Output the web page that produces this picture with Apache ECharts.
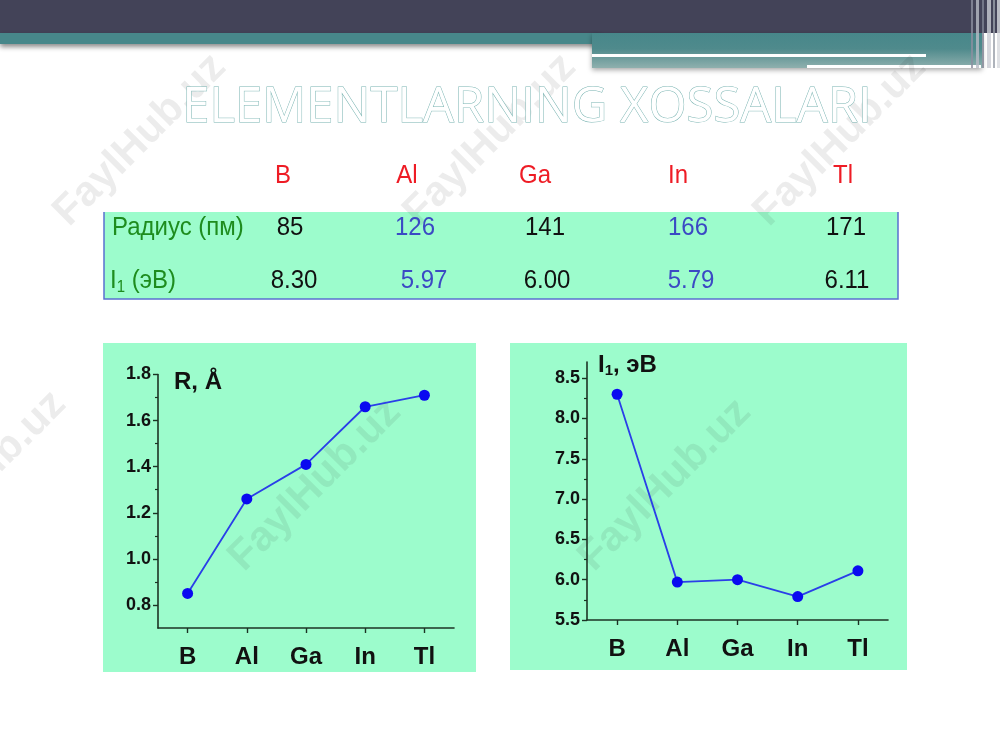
<!DOCTYPE html>
<html>
<head>
<meta charset="utf-8">
<script src="https://cdn.jsdelivr.net/npm/echarts@6/dist/echarts.min.js"></script>
<style>
html,body{margin:0;padding:0;background:#fff;}
#main{width:1000px;height:750px;}
</style>
</head>
<body>
<div id="main"></div>
<script>
// ---- data ----
const elements = ['B', 'Al', 'Ga', 'In', 'Tl'];
const radiusPm = [85, 126, 141, 166, 171];
const ionizationEv = [8.30, 5.97, 6.00, 5.79, 6.11];
const radiusA = [0.85, 1.26, 1.41, 1.66, 1.71];
const ionizationPlot = [8.30, 5.97, 6.00, 5.79, 6.11];
const rTicks = [0.8, 1.0, 1.2, 1.4, 1.6, 1.8];
const rMinorTicks = [0.9, 1.1, 1.3, 1.5, 1.7];
const iTicks = [5.5, 6.0, 6.5, 7.0, 7.5, 8.0, 8.5];
const iMinorTicks = [5.75, 6.25, 6.75, 7.25, 7.75, 8.25];
const titleText = 'ELEMENTLARNING XOSSALARI';
const rowLabelRadius = 'Радиус (пм)';
const watermark = 'FaylHub.uz';

// ---- layout / style ----
const FONT = '"Liberation Sans", Arial, sans-serif';
const GREEN_BG = '#9cfccc';
const AXIS_COLOR = '#1c3324';
const headX = [283, 407, 535, 678, 843];
const row1X = [290, 415, 545, 688, 846];
const row2X = [294, 424, 547, 691, 847];
const valueColors = ['#111', '#3b49c4', '#111', '#3b49c4', '#111'];

const chart = echarts.init(document.getElementById('main'), null, {renderer: 'canvas'});

const g = [];
// banner
g.push({type: 'rect', z: -10, shape: {x: 0, y: 0, width: 1000, height: 33}, style: {fill: '#434358'}});
g.push({type: 'rect', z: -9, shape: {x: 0, y: 33, width: 600, height: 11},
  style: {fill: '#47878a', shadowBlur: 5, shadowOffsetY: 3, shadowColor: 'rgba(0,0,0,0.45)'}});
g.push({type: 'rect', z: -8, shape: {x: 592, y: 33, width: 390, height: 35},
  style: {fill: new echarts.graphic.LinearGradient(0, 0, 0, 1, [
    {offset: 0, color: '#47878a'}, {offset: 0.45, color: '#4f8a8c'}, {offset: 1, color: '#8fb0ae'}]),
    shadowBlur: 5, shadowOffsetY: 2, shadowColor: 'rgba(0,0,0,0.35)'}});
g.push({type: 'rect', z: -7, shape: {x: 592, y: 54, width: 334, height: 3}, style: {fill: '#ffffff'}});
g.push({type: 'rect', z: -7, shape: {x: 807, y: 65, width: 174, height: 3}, style: {fill: '#ffffff'}});
const stripes = [[971, 2, '#8c8fa0'], [976, 3, '#b8bcc6'], [982, 2, '#7f8394'], [987, 4, '#c9ccd3'], [993, 2, '#9aa0aa'], [997, 3, '#d7dadf']];
stripes.forEach(s => g.push({type: 'rect', z: -6, shape: {x: s[0], y: 0, width: s[1], height: 68}, style: {fill: s[2], opacity: 0.8}}));

// title
g.push({type: 'text', z: 5, x: 527, y: 108, style: {text: titleText, font: '49px "Open Sans"', align: 'center', verticalAlign: 'middle',
  fill: '#ffffff', stroke: '#7ab4b2', lineWidth: 1}});

// table
g.push({type: 'rect', z: -10, shape: {x: 104, y: 212, width: 794, height: 87}, style: {fill: GREEN_BG}});
g.push({type: 'polyline', z: -9, shape: {points: [[104, 212], [104, 299], [898, 299], [898, 212]]}, style: {stroke: '#5a6fd0', lineWidth: 1.5, fill: null}});
elements.forEach((e, i) => {
  g.push({type: 'text', z: 5, x: headX[i], y: 176, scaleY: 1.08, style: {text: e, font: '24px ' + FONT, fill: '#ee1c25', align: 'center', verticalAlign: 'middle'}});
  g.push({type: 'text', z: 5, x: row1X[i], y: 228, scaleY: 1.08, style: {text: String(radiusPm[i]), font: '24px ' + FONT, fill: valueColors[i], align: 'center', verticalAlign: 'middle'}});
  g.push({type: 'text', z: 5, x: row2X[i], y: 281, scaleY: 1.08, style: {text: ionizationEv[i].toFixed(2), font: '24px ' + FONT, fill: valueColors[i], align: 'center', verticalAlign: 'middle'}});
});
g.push({type: 'text', z: 5, x: 112, y: 228, scaleY: 1.08, style: {text: rowLabelRadius, font: '24px ' + FONT, fill: '#1e8c1e', align: 'left', verticalAlign: 'middle'}});
g.push({type: 'text', z: 5, x: 110, y: 281, scaleY: 1.08, style: {text: '{a|I}{s|1}{a| (эВ)}', fill: '#1e8c1e', align: 'left', verticalAlign: 'middle',
  rich: {a: {fontSize: 24, fontFamily: FONT, fill: '#1e8c1e'}, s: {fontSize: 15, fontFamily: FONT, fill: '#1e8c1e', padding: [12, 0, 0, 0]}}}});

// chart panels
g.push({type: 'rect', z: -10, shape: {x: 103, y: 343, width: 373, height: 329}, style: {fill: GREEN_BG}});
g.push({type: 'rect', z: -10, shape: {x: 510, y: 343, width: 397, height: 327}, style: {fill: GREEN_BG}});

// chart titles
g.push({type: 'text', z: 5, x: 174, y: 382, style: {text: 'R, Å', font: 'bold 24px ' + FONT, fill: '#111', align: 'left', verticalAlign: 'middle'}});
g.push({type: 'text', z: 5, x: 598, y: 365, style: {text: '{a|I}{s|1}{a|, эВ}', fill: '#111', align: 'left', verticalAlign: 'middle',
  rich: {a: {fontSize: 24, fontWeight: 'bold', fontFamily: FONT, fill: '#111'}, s: {fontSize: 15, fontWeight: 'bold', fontFamily: FONT, fill: '#111', padding: [11, 0, 0, 0]}}}});

// watermarks
const wm = [[140, 140], [490, 140], [840, 140], [-20, 477], [315, 485], [665, 485]];
wm.forEach(p => g.push({type: 'text', z: 1, x: p[0], y: p[1], rotation: Math.PI / 4,
  style: {text: watermark, font: 'bold 42px ' + FONT, fill: 'rgba(40,40,40,0.09)', align: 'center', verticalAlign: 'middle'}}));

function xAxisCfg(gi) {
  return {
    type: 'category', gridIndex: gi, data: elements, boundaryGap: true,
    axisLine: {show: true, lineStyle: {color: AXIS_COLOR, width: 1.6}},
    axisTick: {show: true, alignWithLabel: true, length: 5, lineStyle: {color: AXIS_COLOR, width: 1.4}},
    axisLabel: {fontSize: 24, fontWeight: 'bold', fontFamily: FONT, color: '#111', margin: 17},
    splitLine: {show: false}
  };
}
function yAxisCfg(gi, min, max, ticks) {
  return {
    type: 'value', gridIndex: gi, min: min, max: max,
    axisLine: {show: true, lineStyle: {color: AXIS_COLOR, width: 1.6}},
    axisTick: {show: true, length: 5, customValues: ticks, lineStyle: {color: AXIS_COLOR, width: 1.4}},
    axisLabel: {customValues: ticks, formatter: v => Number(v).toFixed(1), fontSize: 18, fontWeight: 'bold', fontFamily: FONT, color: '#111', margin: 7},
    splitLine: {show: false}
  };
}
function yMinorCfg(gi, min, max, ticks) {
  return {
    type: 'value', gridIndex: gi, min: min, max: max, position: 'left',
    axisLine: {show: false},
    axisTick: {show: true, length: 3, customValues: ticks, lineStyle: {color: AXIS_COLOR, width: 1.2}},
    axisLabel: {show: false},
    splitLine: {show: false}
  };
}

const option = {
  animation: false,
  backgroundColor: '#ffffff',
  graphic: {elements: g},
  grid: [
    {left: 158, right: 546, top: 374.5, bottom: 122, containLabel: false},
    {left: 587, right: 112, top: 362, bottom: 130, containLabel: false}
  ],
  xAxis: [xAxisCfg(0), xAxisCfg(1)],
  yAxis: [
    yAxisCfg(0, 0.7, 1.8, rTicks),
    yAxisCfg(1, 5.5, 8.7, iTicks),
    yMinorCfg(0, 0.7, 1.8, rMinorTicks),
    yMinorCfg(1, 5.5, 8.7, iMinorTicks)
  ],
  series: [
    {type: 'line', xAxisIndex: 0, yAxisIndex: 0, data: radiusA, symbol: 'circle', symbolSize: 11,
      itemStyle: {color: '#0a0af0'}, lineStyle: {color: '#2a3fe8', width: 1.8}, z: 3},
    {type: 'line', xAxisIndex: 1, yAxisIndex: 1, data: ionizationPlot, symbol: 'circle', symbolSize: 11,
      itemStyle: {color: '#0a0af0'}, lineStyle: {color: '#2a3fe8', width: 1.8}, z: 3}
  ]
};
chart.setOption(option);
</script>
</body>
</html>
